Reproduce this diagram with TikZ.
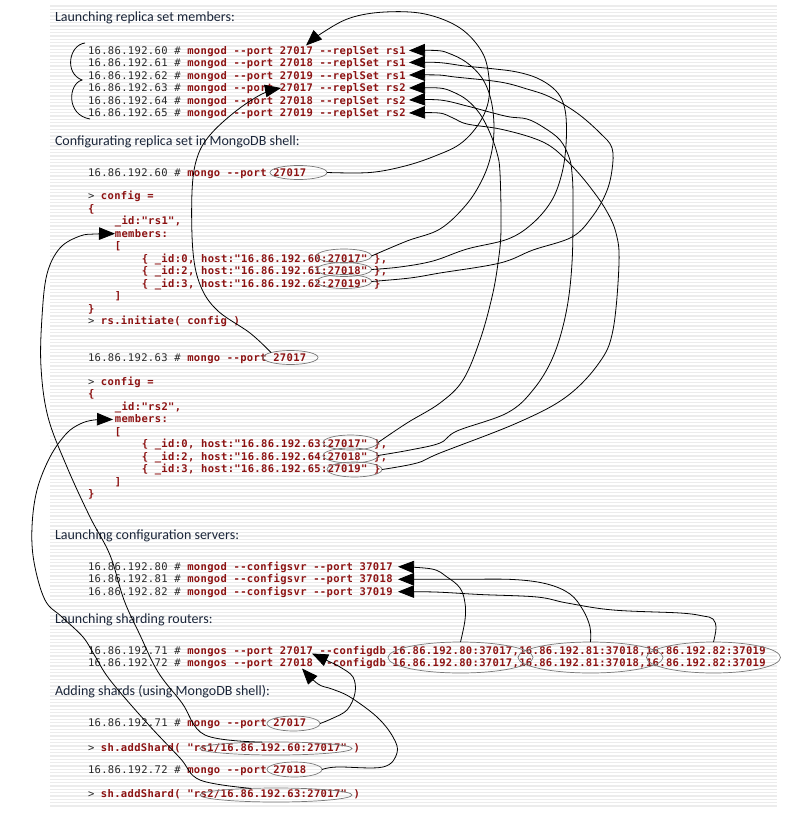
\documentclass[tikz,border=0pt]{standalone}
\usepackage{fontspec}
\usetikzlibrary{shapes.geometric,arrows.meta}
\newfontfamily\codefont[LetterSpace=3.3,Ligatures=TeXOff]{DejaVu Sans Mono}
\newfontfamily\headfont{Carlito}
\definecolor{hd}{RGB}{25,36,56}
\definecolor{ipc}{RGB}{40,40,40}
\definecolor{rd}{RGB}{140,18,18}
\definecolor{elc}{RGB}{120,120,120}
\definecolor{strp}{RGB}{236,236,236}
\newcommand\gtx[1]{\textcolor{ipc}{\mdseries #1}}
\newcommand\rtx[1]{\textcolor{rd}{\bfseries #1}}
\begin{document}
\begin{tikzpicture}[x=1pt,y=-1pt,
  code/.style={anchor=base west,inner sep=0pt,outer sep=0pt,font=\codefont\fontsize{10.5}{12}\selectfont},
  head/.style={anchor=base west,inner sep=0pt,outer sep=0pt,text=hd,font=\headfont\fontsize{14}{16}\selectfont},
  ell/.style={ellipse,draw=elc,line width=0.7pt,inner sep=0pt,outer sep=0pt},
  conn/.style={line width=0.8pt,black},
  arr/.style={conn,-{Triangle[length=16pt,width=12.5pt]}}]
\useasboundingbox (0,0) rectangle (787,821);
% striped background
\foreach \i in {0,...,240} {
  \draw[strp,line width=1.2pt] (50,{6+\i*3.333}) -- (777,{6+\i*3.333});
}
% ---------- section 1
\node[head] (h1) at (55,21.7) {Launching replica set members:};
\node[code] (m1) at (88,54.4) {\gtx{16.86.192.60 \# }\rtx{mongod --port 27017 --replSet rs1}};
\node[code] (m2) at (88,66.9) {\gtx{16.86.192.61 \# }\rtx{mongod --port 27018 --replSet rs1}};
\node[code] (m3) at (88,79.4) {\gtx{16.86.192.62 \# }\rtx{mongod --port 27019 --replSet rs1}};
\node[code] (m4) at (88,91.9) {\gtx{16.86.192.63 \# }\rtx{mongod --port 27017 --replSet rs2}};
\node[code] (m5) at (88,104.4) {\gtx{16.86.192.64 \# }\rtx{mongod --port 27018 --replSet rs2}};
\node[code] (m6) at (88,116.9) {\gtx{16.86.192.65 \# }\rtx{mongod --port 27019 --replSet rs2}};
% ---------- section 2
\node[head] (h2) at (55,145.7) {Configurating replica set in MongoDB shell:};
\node[code] (c1) at (88,176.4) {\gtx{16.86.192.60 \# }\rtx{mongo --port 27017}};
\node[code] (c2) at (88,199.7) {\gtx{> }\rtx{config =}};
\node[code] (c3) at (88,212.2) {\rtx{\{}};
\node[code] (c4) at (114.9,224.7) {\rtx{\_id:"rs1",}};
\node[code] (c5) at (114.9,237.2) {\rtx{members:}};
\node[code] (c6) at (114.9,249.7) {\rtx{[}};
\node[code] (c7) at (141.8,262.2) {\rtx{\{ \_id:0, host:"16.86.192.60:27017" \},}};
\node[code] (c8) at (141.8,274.7) {\rtx{\{ \_id:2, host:"16.86.192.61:27018" \},}};
\node[code] (c9) at (141.8,287.2) {\rtx{\{ \_id:3, host:"16.86.192.62:27019" \}}};
\node[code] (c10) at (114.9,299.7) {\rtx{]}};
\node[code] (c11) at (88,312.2) {\rtx{\}}};
\node[code] (c12) at (88,324.7) {\gtx{> }\rtx{rs.initiate( config )}};
\node[code] (d1) at (88,361.4) {\gtx{16.86.192.63 \# }\rtx{mongo --port 27017}};
\node[code] (d2) at (88,385.4) {\gtx{> }\rtx{config =}};
\node[code] (d3) at (88,397.9) {\rtx{\{}};
\node[code] (d4) at (114.9,410.4) {\rtx{\_id:"rs2",}};
\node[code] (d5) at (114.9,422.9) {\rtx{members:}};
\node[code] (d6) at (114.9,435.4) {\rtx{[}};
\node[code] (d7) at (141.8,447.9) {\rtx{\{ \_id:0, host:"16.86.192.63:27017" \},}};
\node[code] (d8) at (141.8,460.4) {\rtx{\{ \_id:2, host:"16.86.192.64:27018" \},}};
\node[code] (d9) at (141.8,472.9) {\rtx{\{ \_id:3, host:"16.86.192.65:27019" \}}};
\node[code] (d10) at (114.9,485.4) {\rtx{]}};
\node[code] (d11) at (88,497.9) {\rtx{\}}};
% ---------- section 3
\node[head] (h3) at (55,539.3) {Launching configuration servers:};
\node[code] (k1) at (88,570.4) {\gtx{16.86.192.80 \# }\rtx{mongod --configsvr --port 37017}};
\node[code] (k2) at (88,582.9) {\gtx{16.86.192.81 \# }\rtx{mongod --configsvr --port 37018}};
\node[code] (k3) at (88,595.4) {\gtx{16.86.192.82 \# }\rtx{mongod --configsvr --port 37019}};
% ---------- section 4
\node[head] (h4) at (55,623.3) {Launching sharding routers:};
\node[code] (r1) at (88,654.4) {\gtx{16.86.192.71 \# }\rtx{mongos --port 27017 --configdb 16.86.192.80:37017,16.86.192.81:37018,16.86.192.82:37019}};
\node[code] (r2) at (88,666.9) {\gtx{16.86.192.72 \# }\rtx{mongos --port 27018 --configdb 16.86.192.80:37017,16.86.192.81:37018,16.86.192.82:37019}};
% ---------- section 5
\node[head] (h5) at (55,695) {Adding shards (using MongoDB shell):};
\node[code] (s1t) at (88,726.4) {\gtx{16.86.192.71 \# }\rtx{mongo --port 27017}};
\node[code] (s2t) at (88,751) {\gtx{> }\rtx{sh.addShard( "rs1/16.86.192.60:27017" )}};
\node[code] (s3t) at (88,773) {\gtx{16.86.192.72 \# }\rtx{mongo --port 27018}};
\node[code] (s4t) at (88,797.7) {\gtx{> }\rtx{sh.addShard( "rs2/16.86.192.63:27017" )}};
% ---------- ellipses
\node[ell,minimum width=57pt,minimum height=14pt] (e2a) at (298.5,172.5) {};
\node[ell,minimum width=55pt,minimum height=14pt] (e2b) at (290.5,357.5) {};
\node[ell,minimum width=55pt,minimum height=14pt] (q1) at (344,256) {};
\node[ell,minimum width=55pt,minimum height=14pt] (q2) at (344,269.5) {};
\node[ell,minimum width=55pt,minimum height=14pt] (q3) at (344,281.5) {};
\node[ell,minimum width=55pt,minimum height=15pt] (p1) at (350.5,442.5) {};
\node[ell,minimum width=55pt,minimum height=15pt] (p2) at (350.5,455.5) {};
\node[ell,minimum width=55pt,minimum height=15pt] (p3) at (354.5,469.5) {};
\node[ell,minimum width=145pt,minimum height=31pt] (cd1) at (460.5,657.5) {};
\node[ell,minimum width=145pt,minimum height=31pt] (cd2) at (590.5,657.5) {};
\node[ell,minimum width=134pt,minimum height=31pt] (cd3) at (713.5,657.5) {};
\node[ell,minimum width=53pt,minimum height=15pt] (s1) at (293.5,723.5) {};
\node[ell,minimum width=55pt,minimum height=15pt] (s3) at (294.5,769.5) {};
\node[ell,minimum width=152pt,minimum height=13pt] (a1) at (276,748.5) {};
\node[ell,minimum width=152pt,minimum height=14pt] (a2) at (276,795) {};
% ---------- arrow targets
\coordinate (t1) at (306,45.5);
\coordinate (t4) at (281,88);
\coordinate (u1) at (409,50.5);
\coordinate (u2) at (409,62.5);
\coordinate (u3) at (409,75);
\coordinate (u4) at (409,88);
\coordinate (u5) at (409,100);
\coordinate (u6) at (409,113);
\coordinate (v1) at (398,566.7);
\coordinate (v2) at (398,579.3);
\coordinate (v3) at (398,591.7);
\coordinate (w1) at (312,653.5);
\coordinate (w2) at (302,668.5);
\coordinate (mb1) at (115,233.7);
\coordinate (mb2) at (113,419.5);
% brace
\draw[conn] (85,43) .. controls (69,45) and (64,73) .. (82,80) .. controls (68,84) and (66,115) .. (90,119);
% ---------- connectors
\draw[arr] plot[smooth,tension=0.6] coordinates {(e2a.east) (370,172.5) (405,166) (435,156) (460,144) (478,125) (488,103) (489,78) (482,52) (460,28) (425,14) (385,12) (350,18) (322,33) (t1)};
\draw[arr] plot[smooth,tension=0.6] coordinates {(e2b.north west) (250,333) (218,311) (201,287) (193,252) (192,192) (197,158) (210,135) (236,111) (262,94) (t4)};
\draw[arr] plot[smooth,tension=0.6] coordinates {(q1.east) (407,241) (440,229) (466,205) (482,180) (491,155) (494,128) (491,100) (482,78) (466,62) (448,53) (436,50.5) (u1)};
\draw[arr] plot[smooth,tension=0.6] coordinates {(q2.east) (400,267) (433,261) (467,249) (508,239) (533,223) (552,200) (562,173) (566,145) (566,117) (562,100) (553,88) (537,78) (517,72) (495,69) (465,66) (438,62.5) (u2)};
\draw[arr] plot[smooth,tension=0.6] coordinates {(q3.east) (410,278) (440,273) (500,263) (533,250) (572,237) (592,217) (606,193) (612,170) (612,148) (600,133) (577,113) (550,97) (527,89) (500,82) (455,77) (438,75) (u3)};
\draw[arr] plot[smooth,tension=0.6] coordinates {(p1.east) (407,423) (440,403) (463,380) (480,340) (492,297) (498,263) (501,230) (500,173) (497,153) (490,133) (480,114) (467,100) (453,92) (439,88) (u4)};
\draw[arr] plot[smooth,tension=0.6] coordinates {(p2.east) (410,450) (440,443) (457,431) (507,413) (533,390) (553,357) (566,313) (572,263) (573,200) (572,173) (569,157) (560,140) (543,127) (527,119) (510,117) (493,113) (467,106) (440,100) (u5)};
\draw[arr] plot[smooth,tension=0.6] coordinates {(p3.east) (417,463) (440,453) (517,423) (566,397) (599,363) (613,330) (619,263) (616,233) (606,210) (590,187) (573,167) (553,148) (533,138) (500,129) (467,124) (453,118) (439,113) (u6)};
\draw[arr] plot[smooth,tension=0.6] coordinates {(cd1.north) (465,620) (465,603) (460,588) (447,577) (432,569) (v1)};
\draw[arr] plot[smooth,tension=0.6] coordinates {(cd2.north) (590,627) (583,610) (570,594) (547,584) (513,579.5) (460,579.3) (v2)};
\draw[arr] plot[smooth,tension=0.6] coordinates {(cd3.north) (716,628) (713,619) (703,616) (680,613) (613,610) (567,603) (537,597) (480,594.5) (435,592) (v3)};
\draw[arr] plot[smooth,tension=0.6] coordinates {(s1.east) (331,719) (347,710) (355,693) (353,677) (340,667) (328,661) (w1)};
\draw[arr] plot[smooth,tension=0.6] coordinates {(s3.east) (337,767) (383,767) (397,753) (393,737) (377,717) (350,697) (332,689) (318,684) (w2)};
\draw[arr] plot[smooth,tension=0.6] coordinates {(a1.155) (205,735) (182,703) (158,672) (140,635) (124,600) (110,555) (90,517) (67,467) (48,417) (41,367) (42,317) (47,274) (60,248) (80,236) (96,234) (mb1)};
\draw[arr] plot[smooth,tension=0.6] coordinates {(a2.165) (200,780) (180,758) (147,723) (110,680) (95,656) (83,637) (62,617) (45,600) (34,562) (32,527) (37,490) (50,457) (66,434) (80,424) (94,420) (mb2)};
\end{tikzpicture}
\end{document}
